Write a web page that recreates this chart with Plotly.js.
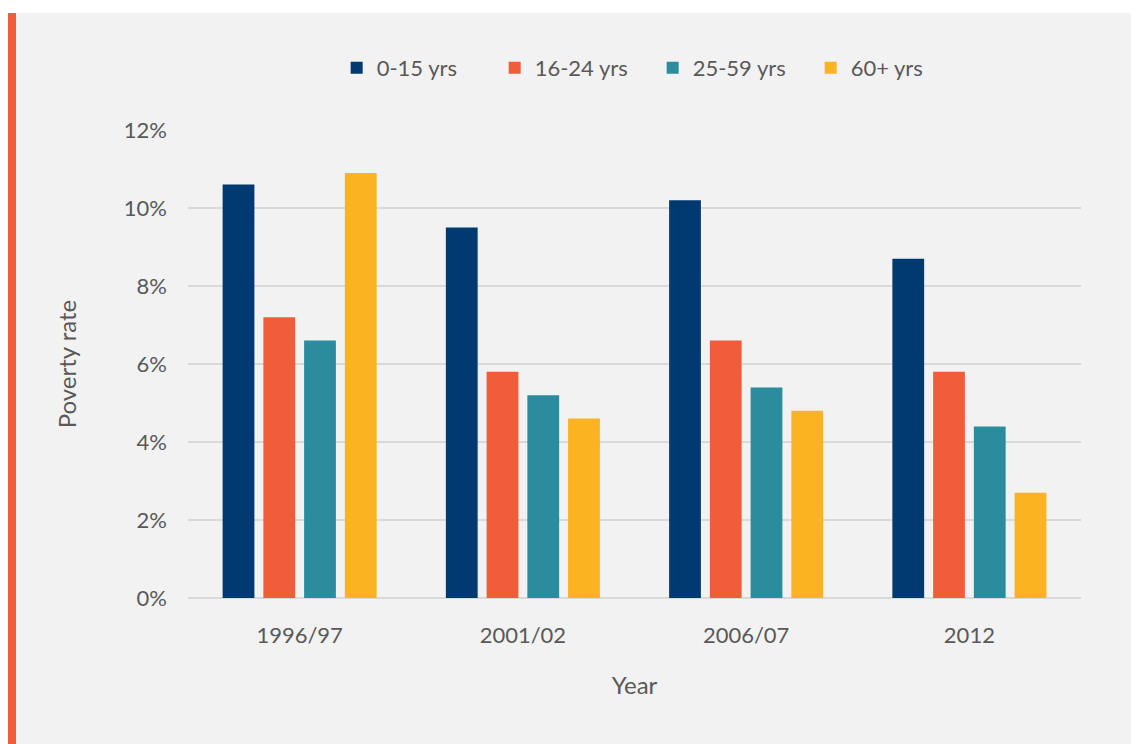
<!DOCTYPE html>
<html>
<head>
<meta charset="utf-8">
<script src="https://cdn.plot.ly/plotly-3.0.1.min.js"></script>
<style>
  html, body { margin: 0; padding: 0; background: #ffffff; }
  #frame {
    position: absolute; left: 8px; top: 13px; width: 1123px; height: 731px;
    background: #f2f2f2; border-left: 8px solid #f15d3b; box-sizing: border-box;
  }
  #chart { position: absolute; left: 0; top: 0; width: 1115px; height: 731px; }
</style>
</head>
<body>
<div id="frame"><div id="chart"></div></div>
<script>
// Poverty rate by age group, per survey year
const years = ['1996/97', '2001/02', '2006/07', '2012'];
const groups = ['0-15 yrs', '16-24 yrs', '25-59 yrs', '60+ yrs'];
const age0to15 = [0.106, 0.095, 0.102, 0.087];
const age16to24 = [0.072, 0.058, 0.066, 0.058];
const age25to59 = [0.066, 0.052, 0.054, 0.044];
const age60plus = [0.109, 0.046, 0.048, 0.027];
const colors = ['#003a70', '#f15d3b', '#2a8c9c', '#fbb321'];

const series = [age0to15, age16to24, age25to59, age60plus];
const traces = series.map((vals, i) => ({
  type: 'bar',
  name: groups[i],
  x: years,
  y: vals,
  marker: { color: colors[i], line: { width: 0 } },
  hoverinfo: 'x+y+name'
}));

const textColor = '#595959';
const layout = {
  width: 1115, height: 731,
  margin: { l: 172, r: 50, t: 117, b: 146 },
  paper_bgcolor: '#f2f2f2',
  plot_bgcolor: '#f2f2f2',
  font: { family: 'Lato, "Open Sans", sans-serif', color: textColor, size: 22 },
  barmode: 'group',
  bargap: 0.27,
  bargroupgap: 0.22,
  showlegend: true,
  legend: {
    orientation: 'h',
    x: 0.571, xanchor: 'center', xref: 'container',
    y: 0.925, yanchor: 'middle', yref: 'container',
    font: { size: 22, color: textColor },
    itemwidth: 30,
    entrywidth: 113,
    entrywidthmode: 'pixels',
    bgcolor: 'rgba(0,0,0,0)'
  },
  xaxis: {
    type: 'category',
    showgrid: false,
    showline: false,
    zeroline: false,
    ticks: '',
    ticklabelstandoff: 22,
    tickfont: { size: 22, color: textColor },
    title: { text: 'Year', font: { size: 24, color: textColor }, standoff: 30 }
  },
  yaxis: {
    range: [0, 0.12],
    dtick: 0.02,
    tickformat: '.0%',
    showgrid: true,
    gridcolor: '#d9d9d9',
    gridwidth: 2,
    zeroline: true,
    zerolinecolor: '#d9d9d9',
    zerolinewidth: 2,
    showline: false,
    ticks: '',
    ticklabelstandoff: 20,
    tickfont: { size: 22, color: textColor },
    title: { text: 'Poverty rate', font: { size: 24, color: textColor }, standoff: 40 }
  }
};

Plotly.newPlot('chart', traces, layout, { displayModeBar: false, staticPlot: true });
</script>
</body>
</html>
